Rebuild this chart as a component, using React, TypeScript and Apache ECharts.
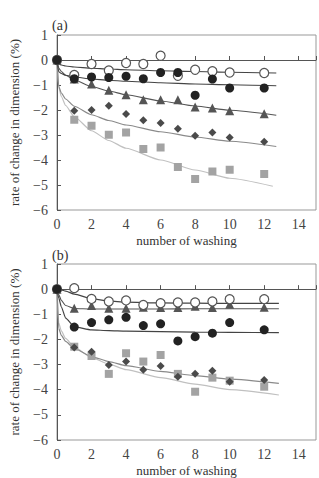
import React, { useEffect, useRef } from 'react';
import * as echarts from 'echarts';

const FONT = '"Liberation Serif", "DejaVu Serif", serif';

// washing counts for measured points
const washX = [0, 1, 2, 3, 4, 5, 6, 7, 8, 9, 10, 12];

// Panel (a) measured points
const aOpen = [0, -0.6, -0.16, -0.42, -0.12, -0.16, 0.17, -0.63, -0.39, -0.45, -0.5, -0.52];
const aFilled = [0, -0.75, -0.68, -0.7, -0.65, -0.75, -0.5, -0.5, -1.41, -0.76, -1.12, -1.12];
const aTri = [0, -0.76, -0.96, -1.21, -1.39, -1.59, -1.59, -1.59, -1.88, -1.92, -2.03, -2.15];
const aDiamond = [0, -2.03, -2.0, -1.83, -2.16, -2.41, -2.52, -2.75, -3.03, -2.9, -3.1, -3.27];
const aSquare = [0, -2.39, -2.63, -2.99, -2.9, -3.56, -3.5, -4.28, -4.76, -4.46, -4.39, -4.56];

// Panel (b) measured points
const bOpen = [0, 0.04, -0.39, -0.49, -0.45, -0.63, -0.56, -0.53, -0.53, -0.49, -0.4, -0.4];
const bTri = [0, -0.76, -0.65, -0.76, -0.76, -0.72, -0.73, -0.73, -0.68, -0.73, -0.6, -0.72];
const bFilled = [0, -1.51, -1.33, -1.22, -1.12, -1.45, -1.38, -2.06, -1.89, -1.75, -1.33, -1.62];
const bDiamond = [0, -2.32, -2.49, -3.02, -2.88, -3.21, -3.06, -3.48, -3.37, -3.25, -3.68, -3.61];
const bSquare = [0, -2.29, -2.66, -3.37, -2.55, -2.88, -2.62, -3.37, -4.08, -3.52, -3.64, -3.88];

// Fitted curves
const aFitX = [0, 0.1, 0.25, 0.5, 1, 2, 3, 4, 6, 8, 10, 12.7];
const aFitSquareX = [0, 0.1, 0.25, 0.5, 1, 2, 3, 4, 6, 8, 10, 12.5];
const aFitOpen = [0, -0.16, -0.2, -0.24, -0.28, -0.33, -0.36, -0.39, -0.43, -0.46, -0.49, -0.52];
const aFitFilled = [0, -0.47, -0.54, -0.61, -0.68, -0.76, -0.81, -0.85, -0.91, -0.96, -0.99, -1.03];
const aFitTri = [0, -0.32, -0.46, -0.61, -0.8, -1.06, -1.24, -1.39, -1.64, -1.84, -2.01, -2.21];
const aFitDiamond = [0, -1.05, -1.32, -1.56, -1.85, -2.19, -2.42, -2.6, -2.87, -3.08, -3.25, -3.46];
const aFitSquare = [0, -1.09, -1.46, -1.82, -2.27, -2.83, -3.22, -3.53, -4.0, -4.4, -4.73, -5.05];

const bFitX = [0, 0.1, 0.25, 0.5, 1, 2, 3, 4, 6, 8, 10, 12.85];
const bFitOpen = [0, -0.01, -0.03, -0.08, -0.2, -0.38, -0.47, -0.52, -0.55, -0.56, -0.57, -0.57];
const bFitTri = [0, -0.22, -0.45, -0.65, -0.77, -0.79, -0.79, -0.79, -0.79, -0.78, -0.78, -0.78];
const bFitFilled = [0, -0.35, -0.7, -1.15, -1.5, -1.62, -1.65, -1.67, -1.69, -1.71, -1.72, -1.73];
const bFitDiamond = [0, -1.56, -1.84, -2.08, -2.36, -2.68, -2.88, -3.04, -3.27, -3.44, -3.58, -3.75];
const bFitSquare = [0, -1.34, -1.66, -1.96, -2.31, -2.72, -2.98, -3.2, -3.52, -3.78, -4.0, -4.21];

const xTicks = [0, 2, 4, 6, 8, 10, 12, 14];

const pair = (xs: number[], ys: number[]) => ys.map((y, i) => [xs[i], y]);
const fmtNum = (v: number) => (v < 0 ? '\u2212' + Math.abs(v) : String(v));

const C_DARK = '#222';
const C_MID = '#555';
const C_DIAM = '#4a4a4a';
const C_SQ = '#a3a3a3';

function makeAxes(idx: number, nameGapX: number) {
  const xAxis = {
    type: 'value', gridIndex: idx, min: 0, max: 15, interval: 2,
    name: 'number of washing', nameLocation: 'middle', nameGap: nameGapX,
    nameTextStyle: { fontFamily: FONT, fontSize: 13, color: '#333' },
    axisLine: { show: true, lineStyle: { color: '#555', width: 1 } },
    axisTick: { inside: true, length: 4, lineStyle: { color: '#555' } },
    axisLabel: {
      fontFamily: FONT, fontSize: 14, color: '#444', margin: 7,
      formatter: (v: number) => (xTicks.includes(v) ? String(v) : ''),
    },
    splitLine: { show: false },
  };
  const yAxis = {
    type: 'value', gridIndex: idx, min: -6, max: 1, interval: 1,
    name: 'rate of change in dimension (%)', nameLocation: 'middle', nameGap: 36,
    nameTextStyle: { fontFamily: FONT, fontSize: 13, color: '#333' },
    axisLine: { show: true, lineStyle: { color: '#555', width: 1 } },
    axisTick: { inside: true, length: 4, lineStyle: { color: '#555' } },
    axisLabel: { fontFamily: FONT, fontSize: 14, color: '#444', margin: 9, formatter: fmtNum },
    splitLine: { show: false },
  };
  return { xAxis, yAxis };
}

function fit(idx: number, xs: number[], ys: number[], color: string) {
  return {
    type: 'line', xAxisIndex: idx, yAxisIndex: idx, data: pair(xs, ys),
    showSymbol: false, symbol: 'none', smooth: 0.2, smoothMonotone: 'x',
    lineStyle: { color, width: 1.2 }, z: 2, silent: true,
  };
}

function pts(idx: number, ys: number[], symbol: string, size: number, color: string, border?: string, z = 3) {
  return {
    type: 'scatter', xAxisIndex: idx, yAxisIndex: idx, data: pair(washX, ys),
    symbol, symbolSize: size, z,
    itemStyle: border
      ? { color: '#fff', borderColor: border, borderWidth: 1.2, opacity: 1 }
      : { color, opacity: 1 },
    silent: true,
  };
}

export default function App() {
  const ref = useRef<HTMLDivElement>(null);
  useEffect(() => {
    if (!ref.current) return;
    const chart = echarts.init(ref.current, undefined, { renderer: 'svg' });
    const a = makeAxes(0, 24);
    const b = makeAxes(1, 24);
    chart.setOption({
      animation: false,
      backgroundColor: '#fff',
      title: [
        { text: '(a)', left: 47, top: 13, textStyle: { fontFamily: FONT, fontSize: 14, fontWeight: 'normal', color: '#333' } },
        { text: '(b)', left: 47, top: 243, textStyle: { fontFamily: FONT, fontSize: 14, fontWeight: 'normal', color: '#333' } },
      ],
      grid: [
        { left: 57, top: 35, width: 259, height: 175, show: true, borderColor: '#999', borderWidth: 1, backgroundColor: 'transparent' },
        { left: 57, top: 264, width: 259, height: 176, show: true, borderColor: '#999', borderWidth: 1, backgroundColor: 'transparent' },
      ],
      xAxis: [a.xAxis, b.xAxis],
      yAxis: [a.yAxis, b.yAxis],
      series: [
        fit(0, aFitSquareX, aFitSquare, '#c0c0c0'),
        fit(0, aFitX, aFitDiamond, '#8a8a8a'),
        fit(0, aFitX, aFitTri, '#555'),
        fit(0, aFitX, aFitFilled, '#444'),
        fit(0, aFitX, aFitOpen, '#444'),
        pts(0, aSquare, 'rect', 8, C_SQ),
        pts(0, aDiamond, 'diamond', 8, C_DIAM),
        pts(0, aTri, 'triangle', 9, C_MID),
        pts(0, aOpen, 'circle', 9, '#fff', '#555', 4),
        pts(0, aFilled, 'circle', 9, C_DARK, undefined, 5),

        fit(1, bFitX, bFitSquare, '#c0c0c0'),
        fit(1, bFitX, bFitDiamond, '#8a8a8a'),
        fit(1, bFitX, bFitTri, '#555'),
        fit(1, bFitX, bFitFilled, '#444'),
        fit(1, bFitX, bFitOpen, '#444'),
        pts(1, bSquare, 'rect', 8, C_SQ),
        pts(1, bDiamond, 'diamond', 8, C_DIAM),
        pts(1, bTri, 'triangle', 9, C_MID),
        pts(1, bOpen, 'circle', 9, '#fff', '#555', 4),
        pts(1, bFilled, 'circle', 9, C_DARK, undefined, 5),
      ],
    });
    return () => chart.dispose();
  }, []);
  return (
    <div
      ref={ref}
      style={{ position: 'fixed', left: 0, top: 0, width: 319, height: 478, background: '#fff' }}
    />
  );
}
